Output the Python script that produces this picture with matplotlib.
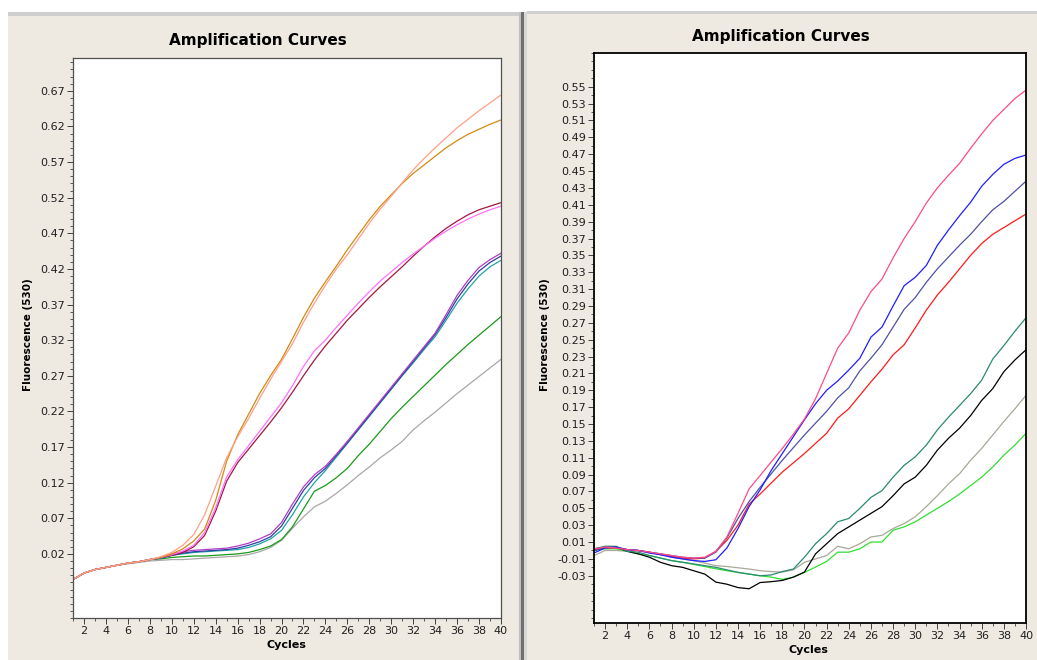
import numpy as np
import matplotlib
matplotlib.use("Agg")
import matplotlib.pyplot as plt
from matplotlib.patches import Rectangle
from matplotlib.ticker import MultipleLocator

cycles = list(range(1, 41))

# ---------------- Left panel data ----------------
base_l = [-0.016, -0.007, -0.002, 0.001, 0.004, 0.007, 0.009, 0.012]
left_salmon = base_l + [0.016, 0.022, 0.032, 0.047, 0.075, 0.115, 0.155, 0.184, 0.210, 0.238, 0.265, 0.290,
                        0.315, 0.345, 0.372, 0.397, 0.420, 0.440, 0.462, 0.484, 0.504, 0.522, 0.541, 0.559,
                        0.575, 0.590, 0.604, 0.618, 0.630, 0.642, 0.653, 0.664]
left_orange = base_l + [0.015, 0.020, 0.027, 0.038, 0.055, 0.095, 0.150, 0.187, 0.216, 0.245, 0.270, 0.293,
                        0.322, 0.352, 0.379, 0.402, 0.424, 0.447, 0.468, 0.489, 0.508, 0.524, 0.540, 0.554,
                        0.566, 0.578, 0.590, 0.600, 0.609, 0.616, 0.623, 0.629]
left_pink = base_l + [0.015, 0.019, 0.024, 0.032, 0.050, 0.085, 0.128, 0.152, 0.172, 0.192, 0.212, 0.232,
                      0.256, 0.283, 0.305, 0.320, 0.338, 0.355, 0.372, 0.388, 0.403, 0.416, 0.429, 0.441,
                      0.452, 0.463, 0.473, 0.482, 0.490, 0.497, 0.503, 0.508]
left_maroon = base_l + [0.015, 0.018, 0.022, 0.030, 0.046, 0.080, 0.122, 0.148, 0.167, 0.186, 0.205, 0.225,
                        0.247, 0.270, 0.292, 0.312, 0.330, 0.348, 0.364, 0.380, 0.395, 0.409, 0.423, 0.438,
                        0.452, 0.465, 0.477, 0.487, 0.496, 0.503, 0.508, 0.513]
left_purple = base_l + [0.015, 0.020, 0.023, 0.025, 0.026, 0.027, 0.028, 0.031, 0.035, 0.041, 0.048, 0.064,
                        0.090, 0.114, 0.131, 0.143, 0.160, 0.178, 0.197, 0.216, 0.235, 0.254, 0.273, 0.292,
                        0.311, 0.330, 0.356, 0.383, 0.404, 0.422, 0.433, 0.442]
left_blue = base_l + [0.014, 0.018, 0.021, 0.023, 0.024, 0.025, 0.026, 0.028, 0.032, 0.037, 0.044, 0.059,
                      0.084, 0.109, 0.127, 0.140, 0.158, 0.176, 0.195, 0.214, 0.233, 0.252, 0.271, 0.290,
                      0.309, 0.328, 0.352, 0.378, 0.399, 0.417, 0.429, 0.438]
left_teal = base_l + [0.014, 0.018, 0.020, 0.022, 0.023, 0.024, 0.025, 0.026, 0.029, 0.034, 0.041, 0.053,
                      0.075, 0.100, 0.120, 0.137, 0.156, 0.175, 0.194, 0.213, 0.232, 0.251, 0.270, 0.288,
                      0.307, 0.325, 0.348, 0.372, 0.392, 0.410, 0.423, 0.432]
left_green = base_l + [0.013, 0.015, 0.016, 0.017, 0.017, 0.018, 0.019, 0.020, 0.022, 0.026, 0.031, 0.040,
                       0.058, 0.083, 0.108, 0.116, 0.127, 0.140, 0.158, 0.174, 0.192, 0.210, 0.226, 0.241,
                       0.256, 0.271, 0.286, 0.300, 0.314, 0.327, 0.340, 0.353]
left_gray = [-0.016, -0.007, -0.002, 0.001, 0.004, 0.006, 0.008, 0.010, 0.011, 0.012, 0.012, 0.013, 0.014,
             0.015, 0.016, 0.017, 0.019, 0.023, 0.029, 0.039, 0.056, 0.072, 0.086, 0.094, 0.105, 0.117,
             0.130, 0.142, 0.155, 0.166, 0.178, 0.194, 0.207, 0.219, 0.232, 0.245, 0.257, 0.269, 0.281, 0.293]

left_series = [
    (left_gray, "#a8a8a8"),
    (left_green, "#1a9a1a"),
    (left_teal, "#1fa3a8"),
    (left_blue, "#3040a0"),
    (left_purple, "#b03cc8"),
    (left_maroon, "#a01840"),
    (left_pink, "#ff70ff"),
    (left_orange, "#d28a10"),
    (left_salmon, "#ffa088"),
]
left_yticks = [0.02, 0.07, 0.12, 0.17, 0.22, 0.27, 0.32, 0.37, 0.42, 0.47, 0.52, 0.57, 0.62, 0.67]

# ---------------- Right panel data ----------------
right_pink = [0.002, 0.004, 0.003, 0.001, 0.000, -0.002, -0.004, -0.006, -0.008, -0.009, -0.008, -0.001,
              0.016, 0.044, 0.073, 0.089, 0.105, 0.121, 0.138, 0.156, 0.180, 0.210, 0.240, 0.258, 0.285,
              0.307, 0.322, 0.347, 0.370, 0.390, 0.412, 0.430, 0.445, 0.459, 0.477, 0.494, 0.510, 0.523,
              0.536, 0.546]
right_blue = [-0.003, 0.003, 0.004, 0.001, 0.000, -0.003, -0.005, -0.008, -0.010, -0.012, -0.013, -0.011,
              0.003, 0.026, 0.052, 0.072, 0.095, 0.115, 0.135, 0.155, 0.174, 0.190, 0.201, 0.214, 0.228,
              0.253, 0.265, 0.290, 0.314, 0.324, 0.338, 0.362, 0.380, 0.397, 0.413, 0.432, 0.446, 0.458,
              0.465, 0.469]
right_slate = [0.000, 0.004, 0.004, 0.001, 0.000, -0.002, -0.004, -0.006, -0.008, -0.009, -0.009, -0.002,
               0.015, 0.038, 0.058, 0.075, 0.091, 0.107, 0.122, 0.137, 0.151, 0.165, 0.181, 0.193, 0.213,
               0.228, 0.244, 0.265, 0.286, 0.300, 0.318, 0.334, 0.348, 0.362, 0.375, 0.390, 0.404, 0.414,
               0.426, 0.438]
right_red = [0.001, 0.003, 0.003, 0.001, 0.000, -0.002, -0.005, -0.007, -0.009, -0.010, -0.009, -0.001,
             0.012, 0.030, 0.055, 0.067, 0.080, 0.093, 0.104, 0.115, 0.127, 0.139, 0.157, 0.168, 0.184,
             0.200, 0.215, 0.232, 0.244, 0.264, 0.285, 0.303, 0.318, 0.334, 0.350, 0.364, 0.375, 0.383,
             0.391, 0.399]
right_teal = [0.002, 0.005, 0.005, -0.001, -0.002, -0.006, -0.009, -0.012, -0.014, -0.016, -0.018, -0.020,
              -0.023, -0.026, -0.028, -0.030, -0.029, -0.025, -0.022, -0.008, 0.008, 0.020, 0.034, 0.038,
              0.050, 0.063, 0.071, 0.087, 0.101, 0.111, 0.125, 0.143, 0.158, 0.172, 0.186, 0.202, 0.227,
              0.243, 0.260, 0.276]
right_black = [0.000, 0.004, 0.004, -0.001, -0.004, -0.008, -0.014, -0.018, -0.020, -0.024, -0.028, -0.0375,
               -0.040, -0.044, -0.0454, -0.038, -0.037, -0.0355, -0.0316, -0.0256, -0.004, 0.008, 0.020,
               0.028, 0.036, 0.044, 0.052, 0.065, 0.079, 0.087, 0.101, 0.119, 0.133, 0.145, 0.160, 0.178,
               0.192, 0.212, 0.226, 0.238]
right_gray = [-0.006, 0.000, 0.000, -0.001, 0.000, -0.002, -0.004, -0.008, -0.010, -0.012, -0.015, -0.018,
              -0.019, -0.0205, -0.022, -0.024, -0.025, -0.0256, -0.023, -0.014, -0.010, -0.006, 0.005,
              0.002, 0.008, 0.016, 0.018, 0.026, 0.032, 0.040, 0.052, 0.065, 0.079, 0.091, 0.107, 0.121,
              0.137, 0.153, 0.168, 0.184]
right_green = [0.000, 0.002, 0.002, -0.001, -0.004, -0.006, -0.009, -0.012, -0.014, -0.0165, -0.019, -0.0217,
               -0.024, -0.026, -0.028, -0.030, -0.0316, -0.0343, -0.0316, -0.026, -0.0197, -0.013, -0.002,
               -0.002, 0.002, 0.010, 0.010, 0.024, 0.028, 0.034, 0.042, 0.050, 0.058, 0.067, 0.077, 0.087,
               0.099, 0.113, 0.125, 0.139]

right_series = [
    (right_gray, "#a8a898"),
    (right_green, "#30e030"),
    (right_black, "#000000"),
    (right_teal, "#2a8a72"),
    (right_red, "#ff1a1a"),
    (right_slate, "#5050a8"),
    (right_blue, "#1e1eff"),
    (right_pink, "#ff4a8a"),
]
right_yticks = [-0.03, -0.01, 0.01, 0.03, 0.05, 0.07, 0.09, 0.11, 0.13, 0.15, 0.17, 0.19, 0.21, 0.23,
                0.25, 0.27, 0.29, 0.31, 0.33, 0.35, 0.37, 0.39, 0.41, 0.43, 0.45, 0.47, 0.49, 0.51, 0.53, 0.55]
xticks = list(range(2, 41, 2))

title_text = "Amplification Curves"
xlabel_text = "Cycles"
ylabel_text = "Fluorescence (530)"

# ---------------- Figure ----------------
W, H = 1037, 660
fig = plt.figure(figsize=(W / 100, H / 100), dpi=100, facecolor="white")
beige = "#eee9e1"


def px_rect(x0, y0, x1, y1, **kw):
    fig.patches.append(Rectangle((x0 / W, 1 - y1 / H), (x1 - x0) / W, (y1 - y0) / H,
                                 transform=fig.transFigure, zorder=-10, **kw))


# panel backgrounds
px_rect(8, 15, 521, 660, facecolor=beige, edgecolor="none")
px_rect(527, 14, 1037, 660, facecolor=beige, edgecolor="none")
px_rect(8, 12, 521, 16, facecolor="#cfcfcf", edgecolor="none")
px_rect(527, 11, 1037, 14, facecolor="#d0d0d0", edgecolor="none")
px_rect(519, 12, 521, 660, facecolor="#c0c0c0", edgecolor="none")
px_rect(521, 12, 524, 660, facecolor="#707070", edgecolor="none")
px_rect(524, 12, 527, 660, facecolor="#d8d8d8", edgecolor="none")


def make_axes(l, t, r, b):
    ax = fig.add_axes([l / W, 1 - b / H, (r - l) / W, (b - t) / H])
    ax.set_zorder(5)
    return ax


def style_axes(ax, yticks, ylim, spine_color, spine_lw):
    ax.set_facecolor("white")
    ax.set_xlim(1, 40)
    ax.set_ylim(*ylim)
    ax.set_xticks(xticks)
    ax.set_xticklabels([str(t) for t in xticks])
    ax.xaxis.set_minor_locator(MultipleLocator(1))
    ax.set_yticks(yticks)
    ax.set_yticklabels([f"{t:.2f}" for t in yticks])
    ax.yaxis.set_minor_locator(MultipleLocator(0.01))
    ax.tick_params(axis="both", which="major", length=4, width=0.7, color="#404040",
                   labelsize=8, labelcolor="#202020", pad=1.5)
    ax.tick_params(axis="both", which="minor", length=2, width=0.6, color="#404040")
    for s in ax.spines.values():
        s.set_color(spine_color)
        s.set_linewidth(spine_lw)


axL = make_axes(73, 58, 501, 618)
style_axes(axL, left_yticks, (-0.07, 0.716), "#505050", 0.9)
for vals, col in left_series:
    axL.plot(cycles, vals, color=col, lw=0.9)

axR = make_axes(594, 53, 1026, 623)
style_axes(axR, right_yticks, (-0.086, 0.59), "#000000", 1.3)
for vals, col in right_series:
    axR.plot(cycles, vals, color=col, lw=0.9)

font_bold = dict(family="DejaVu Sans", weight="bold", color="black", zorder=10)
fig.text(258 / W, 1 - 41 / H, title_text, ha="center", va="center", fontsize=11, **font_bold)
fig.text(781 / W, 1 - 36 / H, title_text, ha="center", va="center", fontsize=11, **font_bold)
fig.text(286 / W, 1 - 645 / H, xlabel_text, ha="center", va="center", fontsize=8, **font_bold)
fig.text(808 / W, 1 - 650 / H, xlabel_text, ha="center", va="center", fontsize=8, **font_bold)
fig.text(28 / W, 1 - 335 / H, ylabel_text, ha="center", va="center", rotation=90, fontsize=7.5, **font_bold)
fig.text(545 / W, 1 - 335 / H, ylabel_text, ha="center", va="center", rotation=90, fontsize=7.5, **font_bold)

fig.savefig("out.png", dpi=100, facecolor="white")
